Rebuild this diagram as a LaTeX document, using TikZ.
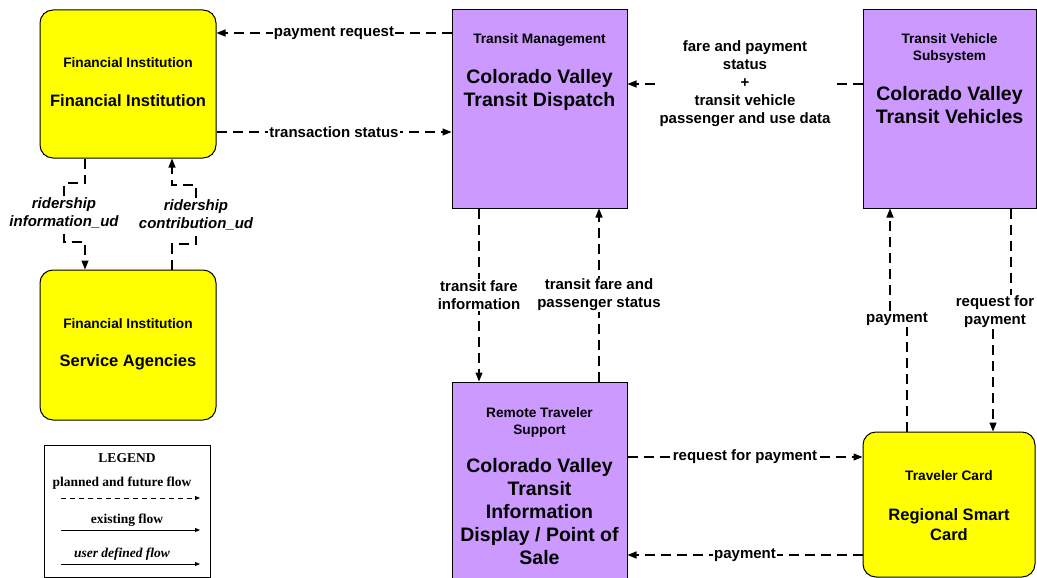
\documentclass[tikz,border=0pt]{standalone}
\usepackage{fontspec}
\setmainfont{Liberation Sans}
\newfontfamily\legendfont{Liberation Serif}
\usetikzlibrary{arrows.meta}
\definecolor{syspurple}{RGB}{204,153,255}
\definecolor{sysyellow}{RGB}{255,255,0}
\tikzset{
	purplebox/.style={draw, fill=syspurple, line width=1pt, inner sep=0pt},
	yellowbox/.style={draw, fill=sysyellow, line width=1pt, inner sep=0pt, rounded corners=13pt},
	hdr/.style={align=center, font=\fontsize{13.7}{17}\selectfont\bfseries},
	bigp/.style={align=center, font=\fontsize{19.5}{23}\selectfont\bfseries},
	bigy/.style={align=center, font=\fontsize{16.5}{20}\selectfont\bfseries},
	flow/.style={line width=1.2pt, dash pattern=on 10pt off 6pt, -{Triangle[length=9pt,width=7pt]}},
	lbl/.style={fill=white, inner sep=1pt, align=center, font=\fontsize{15}{18}\selectfont\bfseries},
	lbli/.style={lbl, font=\fontsize{15}{18}\selectfont\bfseries\itshape},
	legtext/.style={font=\legendfont\fontsize{13.5}{15}\selectfont\bfseries},
	legline/.style={line width=0.9pt, -{Triangle[length=5pt,width=4pt]}}
}
\begin{document}
\begin{tikzpicture}[x=1pt, y=-1pt]
	\useasboundingbox (0,0) rectangle (1037,578);
	\clip (0,0) rectangle (1037,578);
	% boxes
	\node[yellowbox, minimum width=176pt, minimum height=148pt] (fi) at (128,84) {};
	\node[hdr] (fihdr) at (128,63) {Financial Institution};
	\node[bigy] (finame) at (128,101) {Financial Institution};
	\node[yellowbox, minimum width=176pt, minimum height=150pt] (sa) at (128,345) {};
	\node[hdr] (sahdr) at (128,324) {Financial Institution};
	\node[bigy] (saname) at (128,362) {Service Agencies};
	\node[purplebox, minimum width=175pt, minimum height=198pt] (disp) at (539.5,109) {};
	\node[hdr] (disphdr) at (539.5,40) {Transit Management};
	\node[bigp] (dispname) at (539.5,89.5) {Colorado Valley\\Transit Dispatch};
	\node[purplebox, minimum width=173pt, minimum height=198pt] (veh) at (949.5,109) {};
	\node[hdr] (vehhdr) at (949.5,48.5) {Transit Vehicle\\Subsystem};
	\node[bigp] (vehname) at (949.5,105) {Colorado Valley\\Transit Vehicles};
	\node[purplebox, minimum width=175pt, minimum height=218pt] (rts) at (539.5,491) {};
	\node[hdr] (rtshdr) at (539.5,422) {Remote Traveler\\Support};
	\node[bigp] (rtsname) at (539.5,512) {Colorado Valley\\Transit\\Information\\Display / Point of\\Sale};
	\node[yellowbox, minimum width=172pt, minimum height=145pt] (card) at (949,504.5) {};
	\node[hdr] (cardhdr) at (949,476) {Traveler Card};
	\node[bigy] (cardname) at (949,525) {Regional Smart\\Card};
	% flows
	\draw[flow] (disp.west |- 0,33) -- node[lbl] (lpayreq) {payment request} (fi.east |- 0,33);
	\draw[flow] (fi.east |- 0,132) -- node[lbl] (ltrans) {transaction status} (disp.west |- 0,132);
	\draw[flow] (veh.west |- 0,84) -- node[lbl] (lfare) {fare and payment\\status\\+\\transit vehicle\\passenger and use data} (disp.east |- 0,84);
	\draw[flow] (fi.south -| 85,0) |- (64,183) -- node[lbli] (lrinfo) {ridership\\information\_ud} (64,242) -| (sa.north -| 85,0);
	\draw[flow] (sa.north -| 172,0) |- (196,244) -- node[lbli] (lrcontr) {ridership\\contribution\_ud} (196,185) -| (fi.south -| 172,0);
	\draw[flow] (disp.south -| 479,0) -- node[lbl] (lfareinfo) {transit fare\\information} (rts.north -| 479,0);
	\draw[flow] (rts.north -| 599,0) -- node[lbl] (lfarestat) {transit fare and\\passenger status} (disp.south -| 599,0);
	\node[lbl] (lpayveh) at (897,319) {payment};
	\draw[flow] (card.north -| 907,0) -- (lpayveh.south -| 907,0) (lpayveh.north -| 890,0) -- (veh.south -| 890,0);
	\node[lbl] (lreqveh) at (995,312) {request for\\payment};
	\draw[flow] (veh.south -| 1011,0) -- (lreqveh.north -| 1011,0) (lreqveh.south -| 993,0) -- (card.north -| 993,0);
	\draw[flow] (rts.east |- 0,457) -- node[lbl] (lreqcard) {request for payment} (card.west |- 0,457);
	\draw[flow] (card.west |- 0,555) -- node[lbl] (lpaycard) {payment} (rts.east |- 0,555);
	% legend
	\node[draw, line width=1pt, minimum width=166pt, minimum height=132pt] (legend) at (127,511) {};
	\node[legtext] (leghdr) at (127,458) {LEGEND};
	\node[legtext] (legplan) at (122,483) {planned and future flow};
	\draw[legline, dash pattern=on 5pt off 4pt] (61,498) -- (200,498);
	\node[legtext] (legexist) at (127,520) {existing flow};
	\draw[legline] (61,530) -- (200,530);
	\node[legtext, font=\legendfont\fontsize{13.5}{15}\selectfont\bfseries\itshape] (leguser) at (122,554) {user defined flow};
	\draw[legline] (61,564) -- (200,564);
\end{tikzpicture}
\end{document}
